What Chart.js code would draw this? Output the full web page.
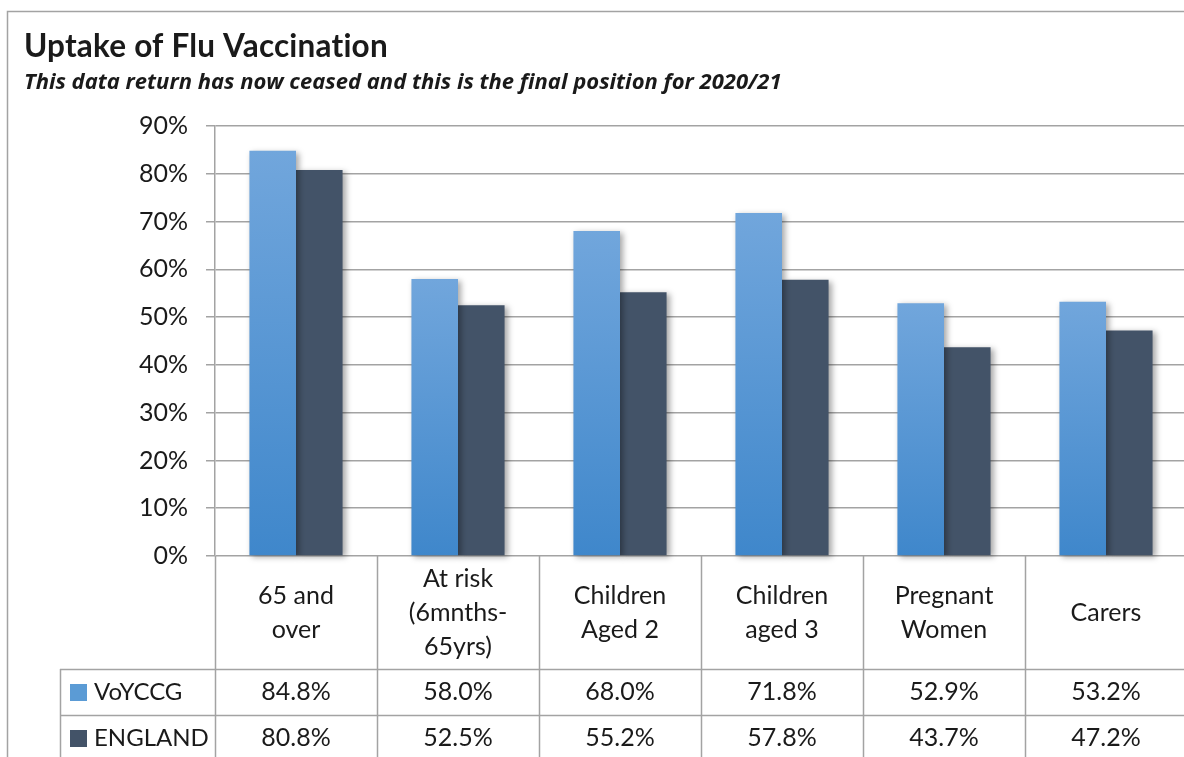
<!DOCTYPE html>
<html>
<head>
<meta charset="utf-8">
<script src="https://cdn.jsdelivr.net/npm/chart.js@4.4.1/dist/chart.umd.min.js"></script>
<style>
  html, body { margin: 0; padding: 0; background: #fff; overflow: hidden; }
</style>
</head>
<body>
<canvas id="myChart" width="1187" height="757"></canvas>
<script>
const chartTitle = "Uptake of Flu Vaccination";
const chartSubtitle = "This data return has now ceased and this is the final position for 2020/21";
const categories = [
    ["65 and", "over"],
    ["At risk", "(6mnths-", "65yrs)"],
    ["Children", "Aged 2"],
    ["Children", "aged 3"],
    ["Pregnant", "Women"],
    ["Carers"]
];
const seriesNames = ["VoYCCG", "ENGLAND"];
const voyccgValues = [84.8, 58.0, 68.0, 71.8, 52.9, 53.2];
const englandValues = [80.8, 52.5, 55.2, 57.8, 43.7, 47.2];
const yTickValues = [0, 10, 20, 30, 40, 50, 60, 70, 80, 90];

const lineGrey = '#a3a3a3';
const textColor = '#1a1a1a';
const fontFamily = 'Lato, "DejaVu Sans", sans-serif';

function blueGradient(context) {
    const chart = context.chart;
    const area = chart.chartArea;
    if (!area || context.parsed === undefined) return '#5b9bd5';
    const top = chart.scales.y.getPixelForValue(context.parsed.y);
    const g = chart.ctx.createLinearGradient(0, top, 0, area.bottom);
    g.addColorStop(0, '#71a6dc');
    g.addColorStop(1, '#3f87cb');
    return g;
}

// frame, title and subtitle
const framePlugin = {
    id: 'frame',
    beforeDraw(chart) {
        const ctx = chart.ctx;
        ctx.save();
        ctx.strokeStyle = lineGrey;
        ctx.lineWidth = 1.5;
        ctx.beginPath();
        ctx.moveTo(7.5, chart.height);
        ctx.lineTo(7.5, 11.5);
        ctx.lineTo(chart.width, 11.5);
        ctx.stroke();

        ctx.fillStyle = textColor;
        ctx.textAlign = 'left';
        ctx.textBaseline = 'alphabetic';
        ctx.letterSpacing = '0.2px'; // stops the "ti" ligature in Lato
        ctx.font = 'bold 31.5px ' + fontFamily;
        ctx.fillText(chartTitle, 24, 57);
        ctx.letterSpacing = '0px';
        ctx.font = 'italic bold 22px "Open Sans", ' + fontFamily;
        ctx.fillText(chartSubtitle, 24, 89);
        ctx.restore();
    }
};

// soft shadow behind the bars
const shadowPlugin = {
    id: 'barShadow',
    beforeDatasetsDraw(chart) {
        const ctx = chart.ctx;
        ctx.save();
        ctx.shadowColor = 'rgba(0,0,0,0.35)';
        ctx.shadowBlur = 6;
        ctx.shadowOffsetX = 3;
        ctx.shadowOffsetY = 2;
    },
    afterDatasetsDraw(chart) {
        chart.ctx.restore();
    }
};

// data table under the plot (category labels + values + legend keys)
const tablePlugin = {
    id: 'dataTable',
    afterDraw(chart) {
        const ctx = chart.ctx;
        const area = chart.chartArea;
        const xScale = chart.scales.x;
        const colW = (area.right - area.left) / categories.length;
        const headerBottom = 669;
        const row1Bottom = 715;
        const tableLeft = 60;
        const bottom = chart.height;

        ctx.save();
        ctx.strokeStyle = lineGrey;
        ctx.lineWidth = 1.5;

        ctx.beginPath();
        for (let i = 0; i <= categories.length; i++) {
            const x = Math.round(area.left + i * colW) + 0.5;
            ctx.moveTo(x, area.bottom);
            ctx.lineTo(x, bottom);
        }
        ctx.moveTo(tableLeft + 0.5, headerBottom);
        ctx.lineTo(tableLeft + 0.5, bottom);
        ctx.moveTo(tableLeft, headerBottom + 0.5);
        ctx.lineTo(chart.width, headerBottom + 0.5);
        ctx.moveTo(tableLeft, row1Bottom + 0.5);
        ctx.lineTo(chart.width, row1Bottom + 0.5);
        ctx.stroke();

        ctx.fillStyle = textColor;
        ctx.textAlign = 'center';
        ctx.textBaseline = 'middle';
        ctx.font = '25px ' + fontFamily;
        const lineH = 34;
        const headerMid = (area.bottom + headerBottom) / 2;
        categories.forEach((lines, i) => {
            const cx = xScale.getPixelForTick(i);
            const y0 = headerMid - (lines.length - 1) * lineH / 2;
            lines.forEach((t, j) => ctx.fillText(t, cx, y0 + j * lineH));
        });

        const rows = [voyccgValues, englandValues];
        const rowMids = [(headerBottom + row1Bottom) / 2, row1Bottom + 23];
        rows.forEach((vals, r) => {
            vals.forEach((v, i) => {
                ctx.fillText(v.toFixed(1) + '%', xScale.getPixelForTick(i), rowMids[r]);
            });
        });

        ctx.font = '24px ' + fontFamily;
        chart.data.datasets.forEach((ds, r) => {
            const y = rowMids[r];
            ctx.fillStyle = r === 0 ? '#5b9bd5' : '#435368';
            ctx.fillRect(70, y - 8, 17, 17);
            ctx.fillStyle = textColor;
            ctx.textAlign = 'left';
            ctx.fillText(ds.label, 94, y);
        });
        ctx.restore();
    }
};

const ctx = document.getElementById('myChart').getContext('2d');
const myChart = new Chart(ctx, {
    type: 'bar',
    data: {
        labels: categories,
        datasets: [{
            label: seriesNames[0],
            data: voyccgValues,
            backgroundColor: blueGradient,
            clip: false
        }, {
            label: seriesNames[1],
            data: englandValues,
            backgroundColor: '#435368',
            clip: false
        }]
    },
    options: {
        responsive: false,
        animation: false,
        devicePixelRatio: 1,
        layout: { padding: { top: 126, bottom: 201, left: 0, right: 0 } },
        datasets: { bar: { categoryPercentage: 0.575, barPercentage: 1 } },
        plugins: {
            legend: { display: false },
            title: { display: false },
            tooltip: { enabled: false }
        },
        scales: {
            x: {
                display: false,
                grid: { display: false }
            },
            y: {
                min: 0,
                max: 90,
                afterFit(scale) { scale.width = 215; },
                afterBuildTicks(scale) { scale.ticks = yTickValues.map(v => ({ value: v })); },
                border: { color: lineGrey, width: 1.5 },
                grid: { color: lineGrey, lineWidth: 1.5, tickLength: 9 },
                ticks: {
                    padding: 18,
                    color: textColor,
                    font: { family: fontFamily, size: 25 },
                    callback: v => v + '%'
                }
            }
        }
    },
    plugins: [framePlugin, shadowPlugin, tablePlugin]
});
</script>
</body>
</html>
